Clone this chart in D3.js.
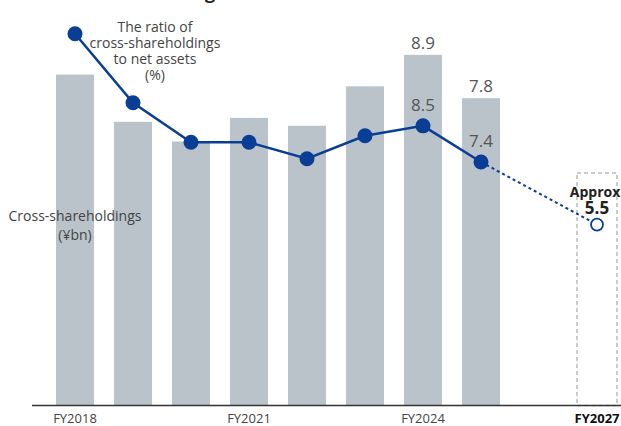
<!DOCTYPE html>
<meta charset="utf-8">
<style>
body {
    margin: 0;
    background: #fff;
    font-family: "Open Sans", "Noto Sans", sans-serif;
}
.bar {
    fill: #bac3ca;
}
.note {
    fill: #444;
    font-size: 14px;
}
.value {
    fill: #555;
    font-size: 17px;
}
</style>
<body>
<script src="https://d3js.org/d3.v7.min.js"></script>
<script>
var width = 621,
    height = 426;

// fiscal years, FY2026 has no mark
var years = ["FY2018", "FY2019", "FY2020", "FY2021", "FY2022", "FY2023", "FY2024", "FY2025", "FY2026", "FY2027"];
var tickYears = ["FY2018", "FY2021", "FY2024", "FY2027"];

// cross-shareholdings (bars)
var barYears = ["FY2018", "FY2019", "FY2020", "FY2021", "FY2022", "FY2023", "FY2024", "FY2025"];
var holdings = [8.4, 7.2, 6.7, 7.3, 7.1, 8.1, 8.9, 7.8];
var holdingLabels = ["FY2024", "FY2025"];

// ratio to net assets (%), the actual years
var ratioYears = ["FY2018", "FY2019", "FY2020", "FY2021", "FY2022", "FY2023", "FY2024", "FY2025"];
var ratio = [11.3, 9.2, 8.0, 8.0, 7.5, 8.2, 8.5, 7.4];
var ratioLabels = ["FY2024", "FY2025"];

// target
var targetYear = "FY2027";
var targetRatio = 5.5;

var svg = d3.select("body").append("svg")
    .attr("width", width)
    .attr("height", height);

var base = 405.5;

var x = d3.scaleBand()
    .domain(years)
    .range([46, 626])
    .paddingInner(0.345)
    .paddingOuter(0.1725);

var yBar = d3.scaleLinear()
    .domain([0, 10])
    .range([base, base - 394]);

var yRatio = d3.scaleLinear()
    .domain([0, 12])
    .range([base, base - 12 * 32.9]);

var cx = function(d) { return x(d) + x.bandwidth() / 2; };

// title, mostly cut off at the top
svg.append("text")
    .attr("x", 43)
    .attr("y", -1)
    .style("font-size", "18px")
    .style("font-weight", "bold")
    .style("fill", "#222")
    .text("Cross-shareholdings");

// bars
svg.append("g")
    .selectAll("rect")
    .data(holdings)
    .enter()
    .append("rect")
    .attr("class", "bar")
    .attr("x", function(d, i) { return x(barYears[i]); })
    .attr("y", function(d) { return yBar(d); })
    .attr("width", x.bandwidth())
    .attr("height", function(d) { return base - yBar(d); });

// target box
svg.append("rect")
    .attr("x", x(targetYear) - 1)
    .attr("y", 173)
    .attr("width", x.bandwidth() + 2)
    .attr("height", base - 173)
    .attr("fill", "none")
    .attr("stroke", "#bbb")
    .attr("stroke-width", 1.5)
    .attr("stroke-dasharray", "4,3");

// axis
var axis = svg.append("g")
    .attr("transform", "translate(0," + base + ")")
    .call(d3.axisBottom(x).tickValues(tickYears).tickSize(0).tickPadding(8));
axis.select(".domain").remove();
axis.append("line")
    .attr("x1", 32)
    .attr("x2", width)
    .attr("stroke", "#333")
    .attr("stroke-width", 1.5);
axis.selectAll(".tick text")
    .style("font-family", "'Open Sans', 'Noto Sans', sans-serif")
    .style("font-size", "13px")
    .style("font-weight", function(d) { return d === targetYear ? "bold" : "normal"; })
    .style("fill", function(d) { return d === targetYear ? "#111" : "#444"; });

// bar labels
svg.append("g")
    .selectAll("text")
    .data(holdingLabels)
    .enter()
    .append("text")
    .attr("class", "value")
    .attr("text-anchor", "middle")
    .attr("x", cx)
    .attr("y", function(d) { return yBar(holdings[barYears.indexOf(d)]) - 6; })
    .text(function(d) { return holdings[barYears.indexOf(d)].toFixed(1); });

// ratio line
var line = d3.line()
    .x(function(d, i) { return cx(ratioYears[i]); })
    .y(function(d) { return yRatio(d); });

var lineColor = "#0a3e94";

svg.append("path")
    .datum(ratio)
    .attr("d", line)
    .attr("fill", "none")
    .attr("stroke", lineColor)
    .attr("stroke-width", 2.5);

var last = ratio.length - 1;
svg.append("line")
    .attr("x1", cx(ratioYears[last]))
    .attr("y1", yRatio(ratio[last]))
    .attr("x2", cx(targetYear))
    .attr("y2", yRatio(targetRatio))
    .attr("stroke", lineColor)
    .attr("stroke-width", 2)
    .attr("stroke-dasharray", "3,3");

svg.append("g")
    .selectAll("circle")
    .data(ratio)
    .enter()
    .append("circle")
    .attr("cx", function(d, i) { return cx(ratioYears[i]); })
    .attr("cy", function(d) { return yRatio(d); })
    .attr("r", 7.5)
    .attr("fill", lineColor);

svg.append("circle")
    .attr("cx", cx(targetYear))
    .attr("cy", yRatio(targetRatio))
    .attr("r", 6)
    .attr("fill", "#fff")
    .attr("stroke", lineColor)
    .attr("stroke-width", 1.8);

// ratio labels
svg.append("g")
    .selectAll("text")
    .data(ratioLabels)
    .enter()
    .append("text")
    .attr("class", "value")
    .attr("text-anchor", "middle")
    .attr("x", cx)
    .attr("y", function(d) { return yRatio(ratio[ratioYears.indexOf(d)]) - 15; })
    .text(function(d) { return ratio[ratioYears.indexOf(d)].toFixed(1); });

svg.append("text")
    .attr("x", cx(targetYear) - 2)
    .attr("y", 197)
    .attr("text-anchor", "middle")
    .style("font-size", "14px")
    .style("font-weight", "bold")
    .style("fill", "#222")
    .text("Approx");

svg.append("text")
    .attr("x", cx(targetYear))
    .attr("y", 214)
    .attr("text-anchor", "middle")
    .style("font-size", "17px")
    .style("font-weight", "bold")
    .style("fill", "#222")
    .text(targetRatio.toFixed(1));

// series notes
var ratioNote = ["The ratio of", "cross-shareholdings", "to net assets", "(%)"];
svg.append("text")
    .attr("class", "note")
    .attr("text-anchor", "middle")
    .selectAll("tspan")
    .data(ratioNote)
    .enter()
    .append("tspan")
    .attr("x", 155)
    .attr("y", function(d, i) { return 32 + i * 16; })
    .text(function(d) { return d; });

var barNote = ["Cross-shareholdings", "(¥bn)"];
svg.append("text")
    .attr("class", "note")
    .attr("text-anchor", "middle")
    .selectAll("tspan")
    .data(barNote)
    .enter()
    .append("tspan")
    .attr("x", 75)
    .attr("y", function(d, i) { return 221 + i * 19; })
    .text(function(d) { return d; });
</script>
</body>
